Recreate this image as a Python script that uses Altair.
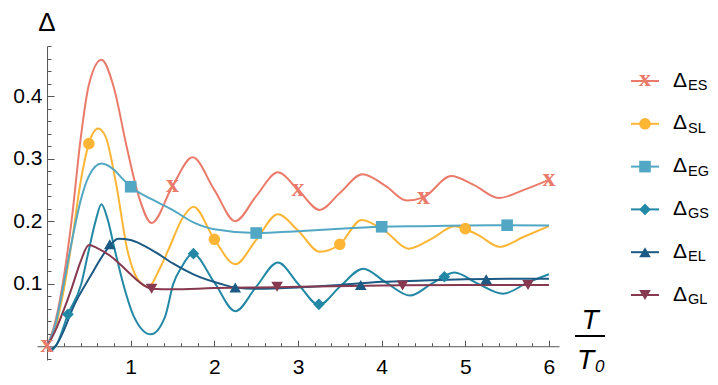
import altair as alt
import pandas as pd

# ---------------- data ----------------
NAMES = ["ES", "SL", "EG", "GS", "EL", "GL"]
COLORS = ["#EA7B6B", "#FDB536", "#52A8C4", "#2388A5", "#1C5A84", "#86394F"]
SHAPES = ["x", "circle", "square", "diamond", "triangle-up", "triangle-down"]

ES_X = [0, 0.1, 0.2, 0.3, 0.4, 0.5, 0.65, 0.8, 0.95, 1.1, 1.25, 1.5, 1.74, 2.0, 2.25, 2.5, 2.76,
        3.0, 3.26, 3.5, 3.77, 4.05, 4.3, 4.5, 4.83, 5.1, 5.4, 5.7, 6.0]
ES_Y = [0, 0.04, 0.11, 0.208, 0.33, 0.418, 0.458, 0.413, 0.32, 0.238, 0.197, 0.256, 0.302, 0.25,
        0.2, 0.24, 0.278, 0.25, 0.218, 0.245, 0.275, 0.256, 0.233, 0.238, 0.272, 0.258, 0.237,
        0.25, 0.266]

SL_X = [0, 0.1, 0.2, 0.3, 0.4, 0.5, 0.61, 0.7, 0.825, 0.96, 1.08, 1.21, 1.35, 1.45, 1.63, 1.75,
        2.0, 2.25, 2.5, 2.76, 3.0, 3.26, 3.5, 3.76, 4.05, 4.32, 4.6, 4.87, 5.15, 5.41, 5.7, 6.0]
SL_Y = [0, 0.03, 0.09, 0.17, 0.262, 0.324, 0.348, 0.335, 0.26, 0.154, 0.108, 0.095, 0.125,
        0.154, 0.207, 0.223, 0.171, 0.131, 0.17, 0.211, 0.185, 0.151, 0.163, 0.202, 0.183,
        0.156, 0.172, 0.192, 0.178, 0.159, 0.175, 0.192]

EG_X = [0, 0.1, 0.2, 0.3, 0.4, 0.5, 0.65, 0.8, 0.9, 1.0, 1.25, 1.5, 1.75, 2.0, 2.5, 3.0, 3.5,
        4.0, 4.5, 5.0, 5.5, 6.0]
EG_Y = [0, 0.035, 0.1, 0.17, 0.232, 0.272, 0.292, 0.282, 0.268, 0.255, 0.235, 0.218, 0.198,
        0.187, 0.181, 0.184, 0.188, 0.191, 0.192, 0.193, 0.1935, 0.193]

GS_X = [0, 0.05, 0.12, 0.25, 0.41, 0.5, 0.58, 0.65, 0.72, 0.81, 0.91, 1.04, 1.24, 1.41, 1.51,
        1.61, 1.74, 2.0, 2.25, 2.5, 2.76, 3.0, 3.25, 3.5, 3.78, 4.05, 4.34, 4.6, 4.87, 5.15,
        5.45, 5.75, 6.0]
GS_Y = [0, -0.007, 0.004, 0.051, 0.1, 0.154, 0.2, 0.227, 0.205, 0.154, 0.1, 0.047, 0.019,
        0.047, 0.1, 0.127, 0.148, 0.102, 0.056, 0.095, 0.134, 0.1, 0.066, 0.095, 0.124, 0.102,
        0.081, 0.1, 0.118, 0.1, 0.084, 0.102, 0.115]

EL_X = [0, 0.05, 0.1, 0.2, 0.315, 0.514, 0.713, 0.85, 1.0, 1.11, 1.3, 1.51, 1.75, 2.07, 2.25,
        2.5, 3.0, 3.5, 4.0, 4.5, 5.0, 5.5, 6.0]
EL_Y = [0, -0.004, 0.0, 0.025, 0.063, 0.111, 0.154, 0.172, 0.17, 0.164, 0.15, 0.132, 0.115,
        0.1, 0.094, 0.092, 0.094, 0.098, 0.103, 0.105, 0.107, 0.108, 0.108]

GL_X = [0, 0.1, 0.2, 0.3, 0.4, 0.5, 0.6, 0.75, 0.85, 1.0, 1.1, 1.25, 1.5, 2.0, 2.5, 3.0, 4.0,
        5.0, 6.0]
GL_Y = [0, 0.025, 0.058, 0.095, 0.135, 0.162, 0.157, 0.145, 0.134, 0.115, 0.103, 0.092, 0.091,
        0.093, 0.094, 0.095, 0.097, 0.098, 0.098]

# plot markers
ES_MX = [0, 1.5, 3, 4.5, 6]
ES_MY = [0, 0.256, 0.25, 0.237, 0.265]
SL_MX = [0.5, 2, 3.5, 5]
SL_MY = [0.324, 0.171, 0.163, 0.188]
EG_MX = [1, 2.5, 4, 5.5]
EG_MY = [0.255, 0.181, 0.191, 0.1935]
GS_MX = [0.25, 1.75, 3.25, 4.75]
GS_MY = [0.051, 0.148, 0.067, 0.111]
EL_MX = [0.75, 2.25, 3.75, 5.25]
EL_MY = [0.163, 0.094, 0.098, 0.107]
GL_MX = [1.25, 2.75, 4.25, 5.75]
GL_MY = [0.092, 0.095, 0.097, 0.098]

X_LABELS = [1, 2, 3, 4, 5, 6]
Y_LABELS = [0.1, 0.2, 0.3, 0.4]

# ---------------- layout ----------------
W, H = 522, 314
XMIN, XMAX = -0.12, 6.12
YMIN, YMAX = -0.022, 0.48
x0_px = (0 - XMIN) / (XMAX - XMIN) * W          # x=0 from the left
y0_px = (0 - YMIN) / (YMAX - YMIN) * H          # y=0 from the bottom
AX_COLOR = "#555555"
FONT = "Liberation Sans"
LEG_X = 594  # left end of the legend sample line (view px)

curves_src = [(ES_X, ES_Y), (SL_X, SL_Y), (EG_X, EG_Y), (GS_X, GS_Y), (EL_X, EL_Y), (GL_X, GL_Y)]
marks_src = [(ES_MX, ES_MY), (SL_MX, SL_MY), (EG_MX, EG_MY), (GS_MX, GS_MY), (EL_MX, EL_MY),
             (GL_MX, GL_MY)]

rows = []
for i, (n, (xv, yv)) in enumerate(zip(NAMES, curves_src)):
    for a, b in zip(xv, yv):
        rows.append({"s": n, "o": i, "x": a, "y": b})
curves = pd.DataFrame(rows)

mrows = []
for i, (n, (xv, yv)) in enumerate(zip(NAMES, marks_src)):
    for a, b in zip(xv, yv):
        mrows.append({"s": n, "o": i, "x": a, "y": b})
markers = pd.DataFrame(mrows)

xs = alt.Scale(domain=[XMIN, XMAX], nice=False, zero=False)
ys = alt.Scale(domain=[YMIN, YMAX], nice=False, zero=False)
cs = alt.Scale(domain=NAMES, range=COLORS)
shs = alt.Scale(domain=NAMES[1:], range=SHAPES[1:])

x_minor = [round(0.2 * k, 1) for k in range(1, 31)]
y_minor = [round(0.02 * k, 2) for k in range(-1, 25) if k != 0]

x_label_axis = alt.Axis(orient="bottom", offset=-y0_px, values=X_LABELS, domain=False,
                        ticks=False, tickSize=0, grid=False, title=None, labelFont=FONT,
                        labelFontSize=21, labelColor="black", labelPadding=10, labelFlush=False)
y_label_axis = alt.Axis(orient="left", offset=-x0_px, values=Y_LABELS, format=".1f", domain=False,
                        ticks=False, tickSize=0, grid=False, title=None, labelFont=FONT,
                        labelFontSize=21, labelColor="black", labelPadding=5, labelFlush=False)
x_tick_axis = alt.Axis(orient="top", offset=-(H - y0_px), values=x_minor, labels=False,
                       grid=False, title=None, domainColor=AX_COLOR, tickColor=AX_COLOR,
                       domainWidth=1, tickWidth=1,
                       tickSize={"condition": {"test": "abs(datum.value - round(datum.value)) < 0.001",
                                               "value": 6}, "value": 3.5})
y_tick_axis = alt.Axis(orient="right", offset=-(W - x0_px), values=y_minor, labels=False,
                       grid=False, title=None, domainColor=AX_COLOR, tickColor=AX_COLOR,
                       domainWidth=1, tickWidth=1,
                       tickSize={"condition": {"test": "abs(datum.value*10 - round(datum.value*10)) < 0.001",
                                               "value": 7}, "value": 4})

lines = alt.Chart(curves).mark_line(strokeWidth=2, interpolate="monotone").encode(
    x=alt.X("x:Q", scale=xs, axis=x_label_axis),
    y=alt.Y("y:Q", scale=ys, axis=y_label_axis),
    color=alt.Color("s:N", scale=cs, legend=None),
    detail="s:N",
    order="x:Q",
)

pts = alt.Chart(markers).transform_filter(alt.datum.s != "ES").mark_point(
    filled=True, opacity=1, size=135, strokeWidth=0).encode(
    x=alt.X("x:Q", scale=xs, axis=x_tick_axis),
    y=alt.Y("y:Q", scale=ys, axis=y_tick_axis),
    color=alt.Color("s:N", scale=cs, legend=None),
    shape=alt.Shape("s:N", scale=shs, legend=None),
)

xmarks = alt.Chart(markers).transform_filter(alt.datum.s == "ES").mark_text(
    text="x", font="Liberation Serif", fontWeight="bold", fontSize=26, baseline="middle",
    align="center", dy=-2, color=COLORS[0]).encode(
    x=alt.X("x:Q", scale=xs, axis=None),
    y=alt.Y("y:Q", scale=ys, axis=None),
)

layers = [lines, pts, xmarks]

# axis title and fraction
one = pd.DataFrame({"a": [0]})
layers.append(alt.Chart(one).mark_text(text="Δ", font=FONT, fontSize=26, align="center",
                                       baseline="alphabetic", color="black").encode(
    x=alt.value(x0_px), y=alt.value(-15)))
layers.append(alt.Chart(one).mark_text(text="T", font=FONT, fontSize=28, fontStyle="italic",
                                       align="center", baseline="alphabetic", color="black").encode(
    x=alt.value(553), y=alt.value(283)))
layers.append(alt.Chart(one).mark_rule(color="black", strokeWidth=2).encode(
    x=alt.value(538), x2=alt.value(568), y=alt.value(290)))
layers.append(alt.Chart(one).mark_text(text="T", font=FONT, fontSize=28, fontStyle="italic",
                                       align="left", baseline="alphabetic", color="black").encode(
    x=alt.value(540), y=alt.value(323)))
layers.append(alt.Chart(one).mark_text(text="0", font=FONT, fontSize=17, fontStyle="italic",
                                       align="left", baseline="alphabetic", color="black").encode(
    x=alt.value(558), y=alt.value(326)))

# manual legend
for i, (n, c, sh) in enumerate(zip(NAMES, COLORS, SHAPES)):
    ly = 35 + 42.8 * i
    layers.append(alt.Chart(one).mark_rule(color=c, strokeWidth=2).encode(
        x=alt.value(LEG_X), x2=alt.value(LEG_X + 28), y=alt.value(ly)))
    if sh == "x":
        layers.append(alt.Chart(one).mark_text(text="x", font="Liberation Serif", fontWeight="bold",
                                               fontSize=24, baseline="middle", align="center", dy=-2,
                                               color=c).encode(x=alt.value(LEG_X + 14), y=alt.value(ly)))
    else:
        layers.append(alt.Chart(one).mark_point(filled=True, opacity=1, size=135, strokeWidth=0,
                                                shape=sh, color=c).encode(
            x=alt.value(LEG_X + 14), y=alt.value(ly)))
    layers.append(alt.Chart(one).mark_text(text="Δ", font=FONT, fontSize=21, align="left",
                                           baseline="alphabetic", color="black").encode(
        x=alt.value(LEG_X + 42), y=alt.value(ly + 5.5)))
    layers.append(alt.Chart(one).mark_text(text=n, font=FONT, fontSize=14.5, align="left",
                                           baseline="alphabetic", color="black").encode(
        x=alt.value(LEG_X + 57), y=alt.value(ly + 9)))

chart = alt.layer(*layers).resolve_axis(x="independent", y="independent").properties(
    width=W, height=H,
    autosize=alt.AutoSizeParams(type="none"),
    padding={"left": 29, "top": 38, "right": 151, "bottom": 17},
).configure_view(stroke=None)

chart.save("out.html", embed_options={"renderer": "svg", "actions": False})
